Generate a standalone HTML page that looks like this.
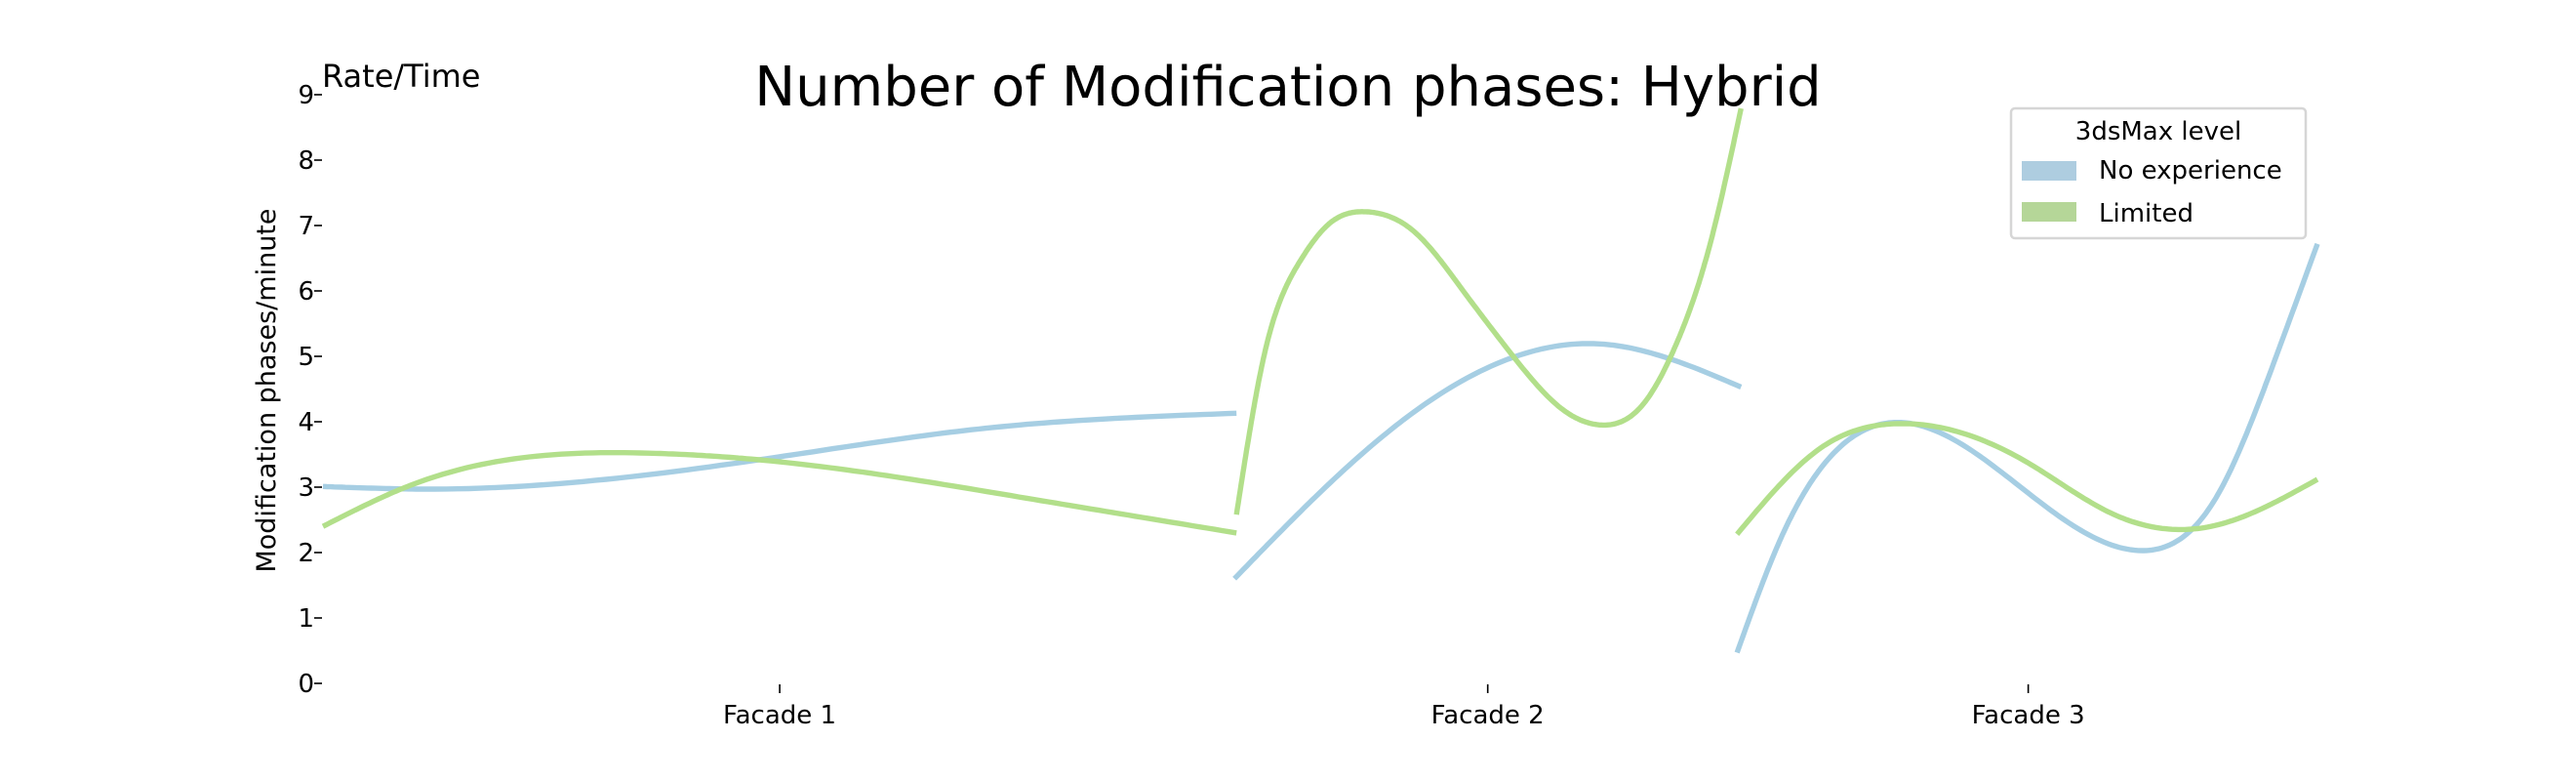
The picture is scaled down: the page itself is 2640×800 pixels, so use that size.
<!DOCTYPE html>
<html><head><meta charset="utf-8">
<style>
html,body{margin:0;padding:0;background:#fff;}
svg{display:block;font-family:"DejaVu Sans","Liberation Sans",sans-serif;}
</style></head>
<body>
<svg id="chart" width="2640" height="800" viewBox="0 0 2640 800" xmlns="http://www.w3.org/2000/svg">
  <text x="1320" y="108" font-size="56" text-anchor="middle">Number of Modification phases: Hybrid</text>
  <text x="330" y="89" font-size="32">Rate/Time</text>
  <text transform="translate(282,400) rotate(-90)" font-size="27" text-anchor="middle">Modification phases/minute</text>
  <g id="yaxis"></g>
  <g id="xaxis"></g>
  <g id="series"></g>
  <g>
    <rect x="2061" y="111" width="302" height="133" rx="4" fill="#fff" stroke="#d6d6d6" stroke-width="2.5"/>
    <text x="2212" y="143" font-size="26" text-anchor="middle">3dsMax level</text>
    <rect x="2072" y="165" width="56" height="20" fill="#aecde0"/>
    <text x="2151" y="183" font-size="26">No experience</text>
    <rect x="2072" y="207" width="56" height="20" fill="#b5d698"/>
    <text x="2151" y="227" font-size="26">Limited</text>
  </g>
</svg>
<script>
const yTicks = [0,1,2,3,4,5,6,7,8,9];
const categories = ["Facade 1","Facade 2","Facade 3"];
const categoryPos = [22.9, 58.4, 85.5];
const seriesNames = ["No experience","Limited"];
// each series: list of segments (one per facade); x in axis units 0..100, y in phases/minute
const noExpX = [[0,5.6,22.8,33.2,45.8],[45.7,50.2,55.4,64.0,71.1],[70.9,73.1,75.1,78.9,85.5,91.2,94.9,97.8,100]];
const noExpY = [[3.01,2.97,3.46,3.9,4.13],[1.6,2.98,4.3,5.19,4.53],[0.47,2.22,3.29,3.99,2.91,2.03,2.83,4.89,6.72]];
const limitedX = [[0,4.4,16.3,22.5,34.9,45.8],[45.8,47.2,48.9,50.5,52.3,54.7,57.1,59.6,62.1,64.1,66.2,67.8,69.5,71.1],[70.9,75.1,78.9,85.5,89.6,94.5,100]];
const limitedY = [[2.4,3.03,3.52,3.4,2.85,2.3],[2.58,5.03,6.41,7.04,7.21,6.91,6.03,5.03,4.2,3.95,4.27,5.15,6.66,8.79],[2.28,3.6,3.97,3.37,2.61,2.39,3.12]];

const NS = "http://www.w3.org/2000/svg";
const X0 = 331, X1 = 2375, Y0 = 700, Y9 = 97;
function xs(v){ return X0 + (X1 - X0) * v / 100; }
function ys(v){ return Y0 - (Y0 - Y9) * v / 9; }
function mk(tag, attrs, parent){ const e = document.createElementNS(NS, tag); for (const k in attrs) e.setAttribute(k, attrs[k]); parent.appendChild(e); return e; }

const yg = document.getElementById('yaxis');
yTicks.forEach(t => {
  const ln = mk('line', {x1: X0 - 9, x2: X0 - 1, y1: ys(t), y2: ys(t), stroke: '#000', 'stroke-width': 1.6}, yg);
  
  
  const tx = mk('text', {x: X0 - 9, y: ys(t) + 9, 'font-size': 26, 'text-anchor': 'end'}, yg);
  
  
  tx.textContent = t;
});
const xg = document.getElementById('xaxis');
categories.forEach((c, i) => {
  const ln = mk('line', {x1: xs(categoryPos[i]), x2: xs(categoryPos[i]), y1: 701, y2: 710, stroke: '#000', 'stroke-width': 1.6}, xg);
  
  
  const tx = mk('text', {x: xs(categoryPos[i]), y: 741, 'font-size': 26, 'text-anchor': 'middle'}, xg);
  
  
  tx.textContent = c;
});

// natural cubic spline
function curve(X, Y){
  const n = X.length, h = [], a = [], l = [1], mu = [0], z = [0], c = new Array(n).fill(0), b = [], d = [];
  for (let i = 0; i < n-1; i++) h.push(X[i+1]-X[i]);
  for (let i = 1; i < n-1; i++) a[i] = 3/h[i]*(Y[i+1]-Y[i]) - 3/h[i-1]*(Y[i]-Y[i-1]);
  for (let i = 1; i < n-1; i++){
    l[i] = 2*(X[i+1]-X[i-1]) - h[i-1]*mu[i-1];
    mu[i] = h[i]/l[i];
    z[i] = (a[i] - h[i-1]*z[i-1])/l[i];
  }
  for (let j = n-2; j >= 0; j--){
    c[j] = (j > 0 ? z[j] - mu[j]*c[j+1] : 0);
    b[j] = (Y[j+1]-Y[j])/h[j] - h[j]*(c[j+1] + 2*c[j])/3;
    d[j] = (c[j+1]-c[j])/(3*h[j]);
  }
  let path = '';
  for (let i = 0; i < n-1; i++){
    for (let s = 0; s <= 30; s++){
      if (i > 0 && s === 0) continue;
      const dx = h[i]*s/30;
      const v = Y[i] + b[i]*dx + c[i]*dx*dx + d[i]*dx*dx*dx;
      path += (path ? 'L' : 'M') + xs(X[i]+dx).toFixed(1) + ',' + ys(v).toFixed(1);
    }
  }
  return path;
}
const sg = document.getElementById('series');
[[noExpX, noExpY, '#a6cee3', 'no-experience'], [limitedX, limitedY, '#b2df8a', 'limited']].forEach(([SX, SY, col, nm]) => {
  SX.forEach((segX, k) => {
    const p = mk('path', {d: curve(segX, SY[k]), fill: 'none', stroke: col, 'stroke-width': 5.4}, sg);
    
    
  });
});
</script>
</body></html>
